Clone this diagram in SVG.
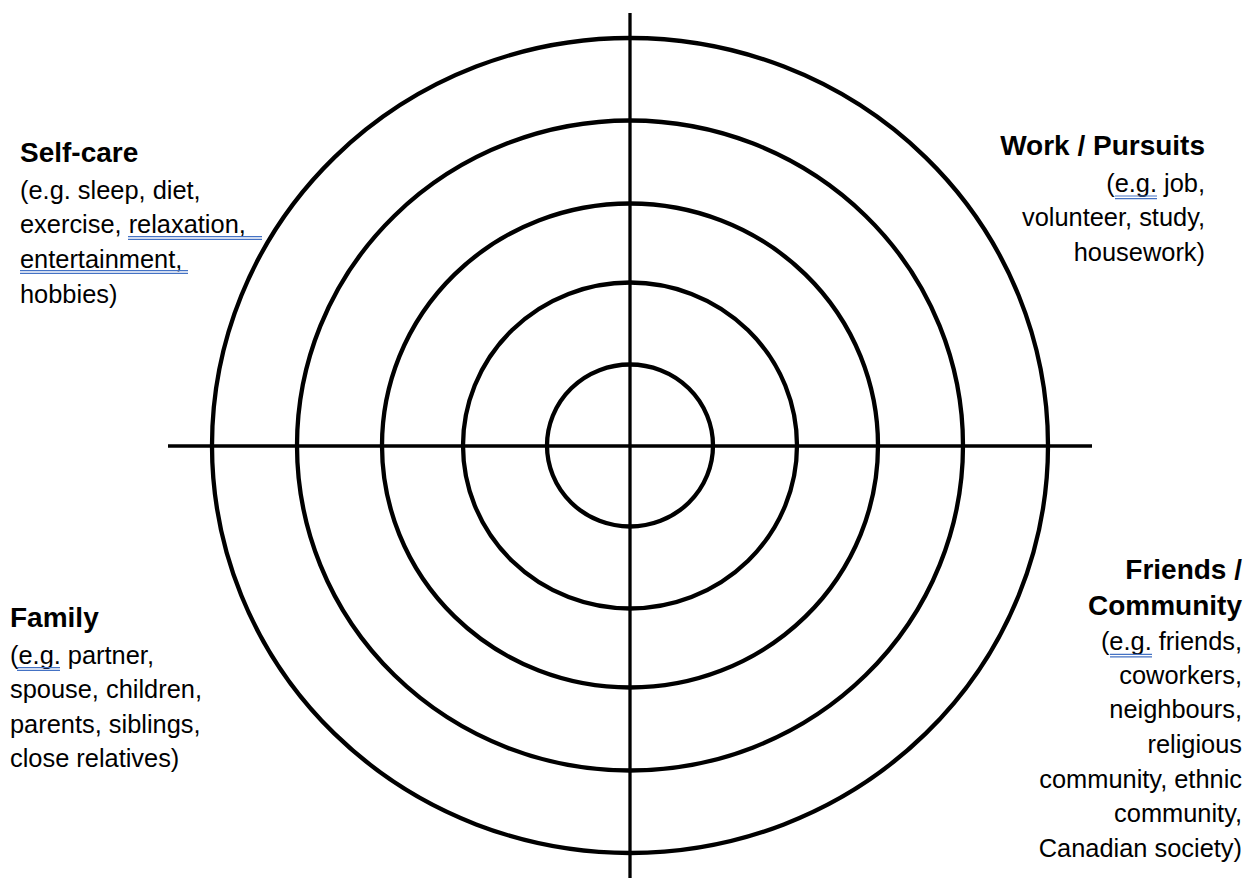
<svg xmlns="http://www.w3.org/2000/svg" width="1255" height="878" viewBox="0 0 1255 878">
<style>
.ring{fill:none;stroke:#000;stroke-width:4.3}
.axis{stroke:#000;stroke-width:3.3;fill:none}
.h{font-family:"Liberation Sans",Arial,sans-serif;font-weight:bold;font-size:28px;fill:#000}
.b{font-family:"Liberation Sans",Arial,sans-serif;font-size:25.4px;fill:#000}
.r{text-anchor:end}
.ul{stroke:#4472C4;stroke-width:1.2;fill:none}
</style>
<rect width="1255" height="878" fill="#fff"/>
<g id="rings">
<ellipse class="ring" cx="630" cy="445.5" rx="418" ry="407.5"/>
<ellipse class="ring" cx="630" cy="445.5" rx="333" ry="325"/>
<ellipse class="ring" cx="630" cy="445.5" rx="248" ry="242"/>
<ellipse class="ring" cx="630" cy="445.5" rx="167" ry="163"/>
<ellipse class="ring" cx="630" cy="445.5" rx="83" ry="81"/>
</g>
<g id="connectors">
<line class="axis" x1="630" y1="13" x2="630" y2="878"/>
<line class="axis" x1="168" y1="446" x2="1092" y2="446"/>
</g>
<g id="self-care">
<text class="h" x="20" y="162">Self-care</text>
<text class="b" x="20" y="199">(e.g. sleep, diet,</text>
<text class="b" x="20" y="233">exercise, relaxation,</text>
<text class="b" x="20" y="268">entertainment,</text>
<text class="b" x="20" y="303">hobbies)</text>
<path class="ul" d="M128 236.7H262M128 239.3H262M20 270.7H188M20 273.3H188"/>
</g>
<g id="work">
<text class="h r" x="1205" y="155">Work / Pursuits</text>
<text class="b r" x="1205" y="192">(e.g. job,</text>
<text class="b r" x="1205" y="226">volunteer, study,</text>
<text class="b r" x="1205" y="261">housework)</text>
<path class="ul" d="M1115 196H1157M1115 198.7H1157"/>
</g>
<g id="family">
<text class="h" x="10" y="627">Family</text>
<text class="b" x="10" y="664">(e.g. partner,</text>
<text class="b" x="10" y="698">spouse, children,</text>
<text class="b" x="10" y="733">parents, siblings,</text>
<text class="b" x="10" y="767">close relatives)</text>
<path class="ul" d="M17 667.7H60M17 670.4H60"/>
</g>
<g id="friends">
<text class="h r" x="1242" y="579">Friends /</text>
<text class="h r" x="1242" y="615">Community</text>
<text class="b r" x="1242" y="650">(e.g. friends,</text>
<text class="b r" x="1242" y="684">coworkers,</text>
<text class="b r" x="1242" y="718">neighbours,</text>
<text class="b r" x="1242" y="753">religious</text>
<text class="b r" x="1242" y="788">community, ethnic</text>
<text class="b r" x="1242" y="822">community,</text>
<text class="b r" x="1242" y="857">Canadian society)</text>
<path class="ul" d="M1110 654.3H1152M1110 656.9H1152"/>
</g>
</svg>
